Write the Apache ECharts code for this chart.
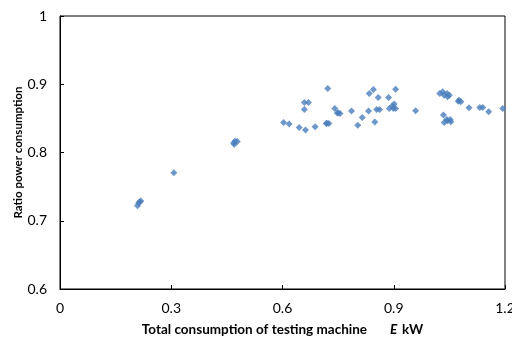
<!DOCTYPE html>
<html>
<head>
<meta charset="utf-8">
<script src="https://cdn.jsdelivr.net/npm/echarts@6/dist/echarts.min.js"></script>
<style>
  html, body { margin: 0; padding: 0; background: #fff; }
  #chart { width: 512px; height: 337px; }
</style>
</head>
<body>
<div id="chart"></div>
<script>
// total consumption E (kW)
const consumption = [
  0.209, 0.212, 0.215, 0.218, 0.307,
  0.468, 0.472, 0.478, 0.470,
  0.603, 0.618, 0.645, 0.662, 0.659, 0.659, 0.670, 0.688,
  0.722, 0.718, 0.725, 0.720, 0.741, 0.748, 0.755, 0.750,
  0.786, 0.803, 0.815, 0.832, 0.834, 0.845, 0.849, 0.858, 0.854, 0.862,
  0.886, 0.888, 0.896, 0.901, 0.905, 0.899, 0.905, 0.959,
  1.024, 1.032, 1.036, 1.045, 1.050, 1.044, 1.034,
  1.036, 1.045, 1.052, 1.054, 1.043,
  1.076, 1.081, 1.074, 1.103, 1.132, 1.140, 1.156, 1.194
];
// ratio power consumption
const ratio = [
  0.722, 0.726, 0.728, 0.729, 0.7705,
  0.814, 0.817, 0.816, 0.812,
  0.844, 0.8417, 0.8368, 0.8329, 0.863, 0.8733, 0.8733, 0.8378,
  0.8938, 0.8426, 0.8426, 0.843, 0.8646, 0.858, 0.857, 0.8584,
  0.8607, 0.840, 0.8514, 0.8607, 0.8865, 0.8923, 0.8446, 0.8806, 0.863, 0.863,
  0.8806, 0.8646, 0.868, 0.871, 0.8646, 0.8646, 0.8928, 0.8612,
  0.8865, 0.889, 0.884, 0.8816, 0.884, 0.8865, 0.8548,
  0.844, 0.8465, 0.8485, 0.845, 0.8485,
  0.8767, 0.8743, 0.875, 0.8655, 0.866, 0.866, 0.8597, 0.8646
];
const xTicks = [0, 0.3, 0.6, 0.9, 1.2];
const yTicks = [0.6, 0.7, 0.8, 0.9, 1];

const chart = echarts.init(document.getElementById("chart"));
const font = "Lato, 'Open Sans', sans-serif";

chart.setOption({
  animation: false,
  grid: {
    left: 60, right: 7, top: 16, bottom: 48,
    outerBoundsMode: "none",
    containLabel: false,
    show: true, borderColor: "#000", borderWidth: 1
  },
  xAxis: {
    type: "value",
    min: xTicks[0], max: xTicks[xTicks.length - 1], interval: 0.3,
    splitLine: { show: false },
    axisLine: { lineStyle: { color: "#000" } },
    axisTick: { inside: true, length: 4, lineStyle: { color: "#000" } },
    axisLabel: { color: "#000", fontSize: 14, fontFamily: font, margin: 12 },
    name: "{t|Total consumption of testing machine}{g|}{e|E}{k|kW}",
    nameLocation: "middle",
    nameGap: 34,
    nameTextStyle: {
      rich: {
        t: { fontSize: 13.5, fontWeight: "bold", fontFamily: font, color: "#000" },
        g: { width: 18 },
        e: { fontSize: 13.5, fontWeight: "bold", fontStyle: "italic", fontFamily: font, color: "#000", width: 17 },
        k: { fontSize: 13.5, fontWeight: "bold", fontFamily: font, color: "#000" }
      }
    }
  },
  yAxis: {
    type: "value",
    min: yTicks[0], max: yTicks[yTicks.length - 1], interval: 0.1,
    splitLine: { show: false },
    axisLine: { lineStyle: { color: "#000" } },
    axisTick: { inside: true, length: 4, lineStyle: { color: "#000" } },
    axisLabel: {
      color: "#000", fontSize: 14, fontFamily: font, margin: 13,
      formatter: v => String(Math.round(v * 10) / 10)
    },
    name: "Ratio power consumption",
    nameLocation: "middle",
    nameGap: 36,
    nameMoveOverlap: false,
    nameTextStyle: { fontSize: 11.5, fontWeight: "bold", fontFamily: font, color: "#000" }
  },
  series: [{
    type: "scatter",
    symbol: "diamond",
    symbolSize: 7,
    itemStyle: { color: "#4a7ebb" },
    data: consumption.map((x, i) => [x, ratio[i]])
  }]
});
</script>
</body>
</html>
